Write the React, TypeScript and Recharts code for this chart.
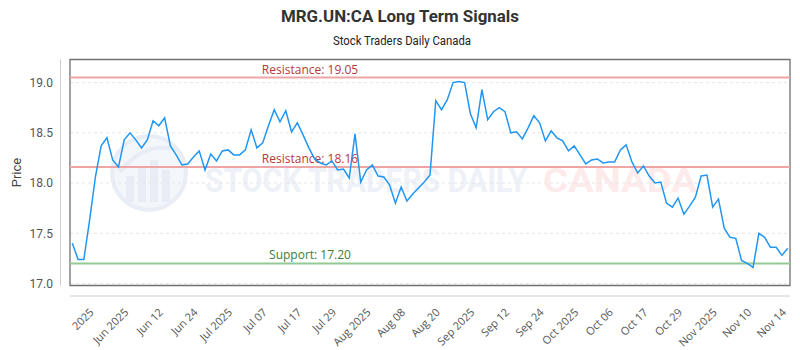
import { LineChart, Line, XAxis, YAxis, CartesianGrid, ReferenceLine, ReferenceArea } from 'recharts'

// daily closes, oldest first
const prices = [
  17.40, 17.24, 17.24, 17.63, 18.06, 18.37, 18.45, 18.23, 18.16, 18.43,
  18.50, 18.43, 18.35, 18.43, 18.62, 18.57, 18.65, 18.37, 18.28, 18.18,
  18.19, 18.26, 18.32, 18.13, 18.29, 18.22, 18.32, 18.33, 18.28, 18.28,
  18.33, 18.53, 18.35, 18.40, 18.57, 18.73, 18.61, 18.72, 18.51, 18.60,
  18.48, 18.35, 18.24, 18.20, 18.18, 18.22, 18.13, 18.14, 18.05, 18.49,
  18.01, 18.13, 18.18, 18.07, 18.06, 17.98, 17.80, 17.96, 17.82, 17.89,
  17.95, 18.01, 18.08, 18.82, 18.73, 18.83, 19.00, 19.01, 19.00, 18.69,
  18.55, 18.93, 18.63, 18.71, 18.75, 18.71, 18.50, 18.51, 18.44, 18.55,
  18.67, 18.60, 18.42, 18.52, 18.45, 18.42, 18.32, 18.37, 18.28, 18.19,
  18.23, 18.24, 18.20, 18.21, 18.21, 18.33, 18.38, 18.21, 18.10, 18.17,
  18.07, 18.00, 18.01, 17.80, 17.76, 17.85, 17.69, 17.77, 17.86, 18.07,
  18.08, 17.76, 17.84, 17.55, 17.46, 17.45, 17.23, 17.20, 17.16, 17.50,
  17.46, 17.36, 17.36, 17.28, 17.35,
]

const tickLabels = [
  '2025', 'Jun 2025', 'Jun 12', 'Jun 24', 'Jul 2025', 'Jul 07', 'Jul 17',
  'Jul 29', 'Aug 2025', 'Aug 08', 'Aug 20', 'Sep 2025', 'Sep 12', 'Sep 24',
  'Oct 2025', 'Oct 06', 'Oct 17', 'Oct 29', 'Nov 2025', 'Nov 10', 'Nov 14',
]

const resistance = [19.05, 18.16]
const support = [17.2]

const yTicks = [17, 17.5, 18, 18.5, 19]
const yMin = 16.98
const yMax = 19.23

// x axis labels sit every 6 sessions
const firstTick = 2.9
const tickStep = 6
const xTicks = tickLabels.map((_, i) => firstTick + i * tickStep)

const data = prices.map((price, i) => ({ i, price }))
const xMin = -0.4
const xMax = prices.length - 1 + 0.4

const levelLabel = (text: string, color: string) => (props: any) => {
  const { x, y, width } = props.viewBox
  return (
    <text x={x + width / 3} y={y - 4} textAnchor="middle" fill={color} fontSize={12} fontFamily="Open Sans">
      {text}
    </text>
  )
}

function Backdrop() {
  return (
    <svg width={800} height={350} style={{ position: 'absolute', left: 0, top: 0 }}>
      <text x={400} y={22} textAnchor="middle" fontSize={16} fontWeight={700} fill="#333"
        fontFamily="Roboto" textLength={238} lengthAdjust="spacingAndGlyphs">
        MRG.UN:CA Long Term Signals
      </text>
      <text x={402} y={45} textAnchor="middle" fontSize={12} fill="#222"
        fontFamily="Roboto" textLength={138} lengthAdjust="spacingAndGlyphs">
        Stock Traders Daily Canada
      </text>
      {/* faint logo + brand text */}
      <circle cx={149} cy={173} r={37} fill="#f3f6fa" stroke="#e9edf5" strokeWidth={4} />
      <rect x={126} y={176} width={8} height={26} fill="#e8ecf4" />
      <rect x={138} y={168} width={8} height={34} fill="#e8ecf4" />
      <rect x={150} y={160} width={8} height={42} fill="#e8ecf4" />
      <rect x={162} y={170} width={8} height={32} fill="#e8ecf4" />
      <path d="M120 172 Q145 140 178 150" stroke="#e8ecf4" strokeWidth={4} fill="none" />
      <text x={205} y={192} fontSize={34} fontWeight={700} fill="#eef1f7" fontFamily="Roboto"
        textLength={322} lengthAdjust="spacingAndGlyphs">
        STOCK TRADERS DAILY
      </text>
      <text x={543} y={192} fontSize={34} fontWeight={700} fill="#fdeaea" fontFamily="Roboto"
        textLength={154} lengthAdjust="spacingAndGlyphs">
        CANADA
      </text>
    </svg>
  )
}

export default function App() {
  return (
    <div style={{ position: 'relative', width: 800, height: 350, background: '#fff' }}>
      <style>{'body{margin:0}'}</style>
      <Backdrop />
      <div style={{ position: 'absolute', left: 0, top: 0 }}>
        <LineChart width={800} height={350} data={data} margin={{ top: 59.5, right: 10, bottom: 0, left: 0 }}>
          <CartesianGrid vertical={false} strokeDasharray="3 3" stroke="#e6e6e6" />
          <ReferenceArea x1={xMin} x2={xMax} y1={yMin} y2={yMax} fill="none" stroke="#707070" strokeWidth={1.3} />
          <XAxis
            type="number"
            dataKey="i"
            domain={[xMin, xMax]}
            allowDataOverflow
            ticks={xTicks}
            interval={0}
            tickFormatter={(v: number) => tickLabels[Math.round((v - firstTick) / tickStep)]}
            height={64.5}
            angle={-45}
            textAnchor="end"
            tickLine={false}
            tickSize={0}
            tickMargin={22}
            axisLine={{ stroke: '#cccccc', transform: 'translate(0 10.5)' }}
            tick={{ fontSize: 11, fill: '#555', fontFamily: 'Open Sans' }}
          />
          <YAxis
            domain={[yMin, yMax]}
            allowDataOverflow
            ticks={yTicks}
            interval={0}
            width={70}
            tickFormatter={(v: number) => v.toFixed(1)}
            tickLine={false}
            tickSize={0}
            tickMargin={17}
            axisLine={{ stroke: '#cccccc', transform: 'translate(-9.5 0)' }}
            tick={{ fontSize: 12, fill: '#555', fontFamily: 'Roboto' }}
            label={{ value: 'Price', angle: -90, position: 'insideLeft', offset: 16, fontSize: 13, fill: '#444', fontFamily: 'Roboto', style: { textAnchor: 'middle' } }}
          />
          {resistance.map((r) => (
            <ReferenceLine key={r} y={r} stroke="#f0a5a5" strokeWidth={2}
              label={levelLabel(`Resistance: ${r.toFixed(2)}`, '#b33a3a')} />
          ))}
          {support.map((s) => (
            <ReferenceLine key={s} y={s} stroke="#93c993" strokeWidth={2}
              label={levelLabel(`Support: ${s.toFixed(2)}`, '#3b7d3b')} />
          ))}
          <Line type="linear" dataKey="price" stroke="#2196f3" strokeWidth={1.5} dot={false} isAnimationActive={false} />
        </LineChart>
      </div>
    </div>
  )
}
